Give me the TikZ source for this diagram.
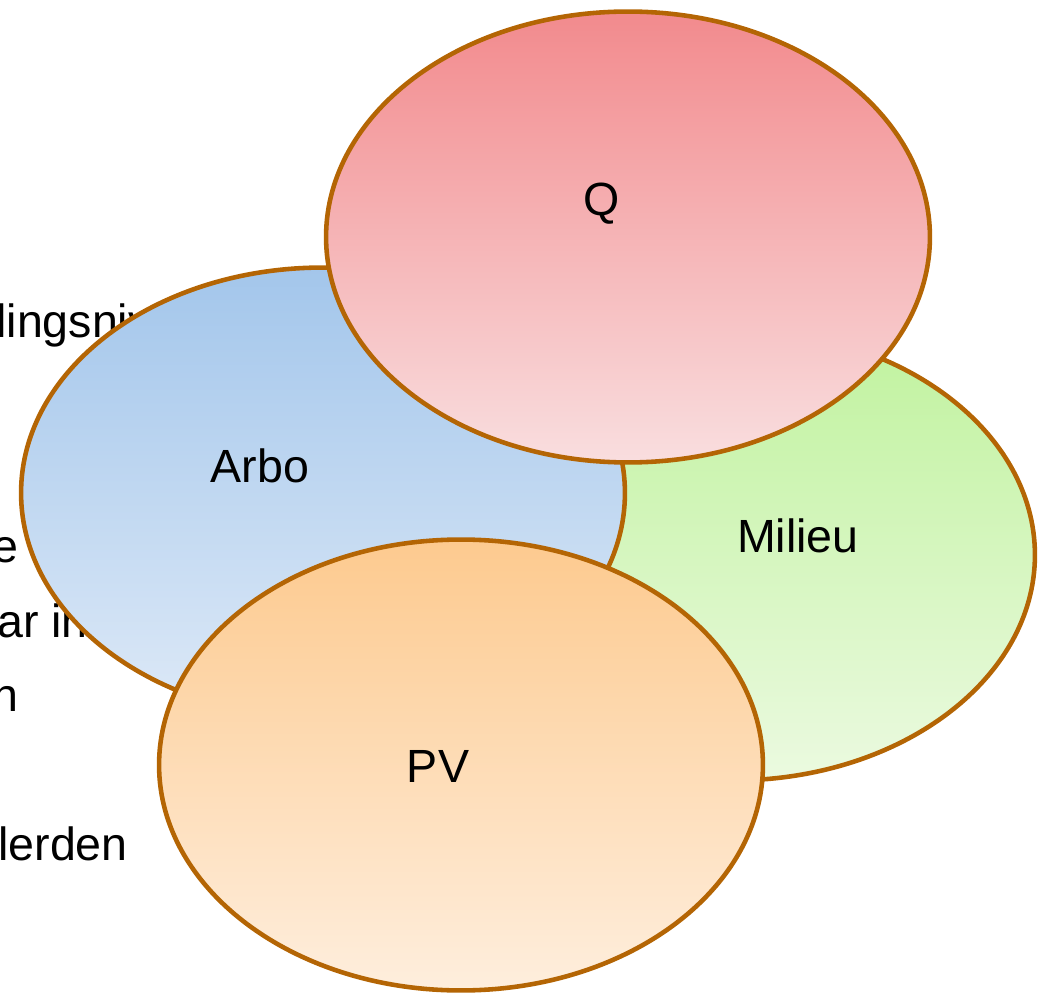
\documentclass[tikz,border=0pt]{standalone}
\usepackage{fontspec}
\setmainfont{Liberation Sans}
\usetikzlibrary{shapes.geometric}

\definecolor{rim}{HTML}{B46504}
\definecolor{qtop}{HTML}{F28A8D}
\definecolor{qbot}{HTML}{F9DEDF}
\definecolor{arbotop}{HTML}{A3C6EB}
\definecolor{arbobot}{HTML}{DDE9F7}
\definecolor{miltop}{HTML}{C0F29E}
\definecolor{milbot}{HTML}{EBFAE0}
\definecolor{pvtop}{HTML}{FDCA8F}
\definecolor{pvbot}{HTML}{FEEEDD}

\tikzset{
  blob/.style={ellipse,draw=rim,line width=2.6pt,minimum width=12.08cm,minimum height=9.02cm},
  lab/.style={anchor=base,inner sep=0pt,font=\fontsize{26.5}{31}\selectfont},
  frag/.style={anchor=base west,inner sep=0pt,font=\fontsize{26.5}{31}\selectfont}
}

\begin{document}
\begin{tikzpicture}[x=0.02cm,y=-0.02cm]
    \useasboundingbox (0,0) rectangle (1039,993);
    \clip (0,0) rectangle (1039,993);
    % 背景文字
    \node[frag] (t1) at (-4,338) {lingsniv};
    \node[frag] (t2) at (-8,562) {e};
    \node[frag] (t3) at (-3,637) {ar in};
    \node[frag] (t4) at (-8,711) {n};
    \node[frag] (t5) at (-2,860) {lerden};

    % 四个椭圆
    \node[blob,top color=miltop,bottom color=milbot] (milieu) at (733,555) {};
    \node[blob,top color=arbotop,bottom color=arbobot] (arbo) at (323,493) {};
    \node[blob,top color=qtop,bottom color=qbot] (q) at (628,237) {};
    \node[blob,top color=pvtop,bottom color=pvbot] (pv) at (461,765) {};

    \node[lab] (qtxt) at (602,216) {Q};
    \node[lab] (arbotxt) at (260,482) {Arbo};
    \node[lab] (miltxt) at (798,553) {Milieu};
    \node[lab] (pvtxt) at (438,782) {PV};
\end{tikzpicture}
\end{document}
